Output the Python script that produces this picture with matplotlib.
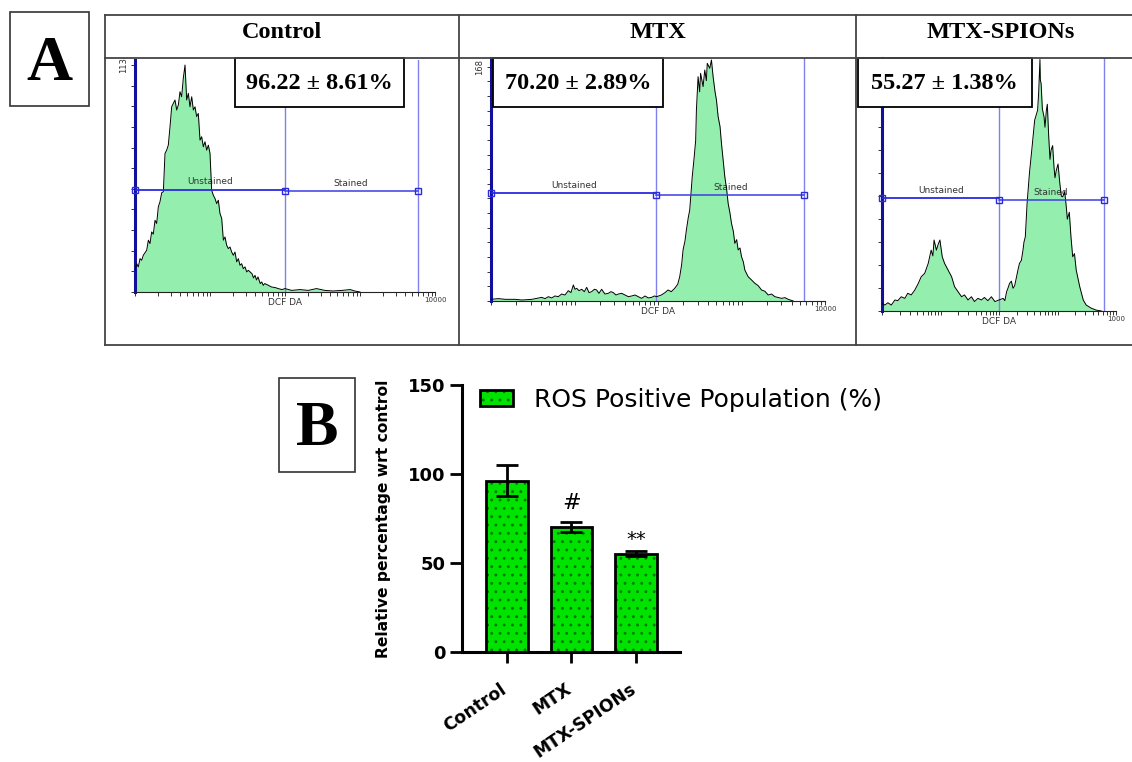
import matplotlib
matplotlib.use('Agg')
import matplotlib.pyplot as plt
import numpy as np
from matplotlib.patches import Rectangle
from matplotlib.ticker import NullFormatter

W, H = 1132, 762

groups = ['Control', 'MTX', 'MTX-SPIONs']
ros_mean = [96.22, 70.20, 55.27]
ros_sem = [8.61, 2.89, 1.38]
signif = ['', '#', '**']

# DCF DA histograms as (log decade, cell count); decade 0 -> 10^0, 4 -> 10^4
ctrl_pts = [(0.000, 10.8), (0.022, 14.1), (0.044, 12.5), (0.067, 16.6), (0.089, 15.8),
            (0.111, 18.3), (0.156, 20.8), (0.178, 25.8), (0.200, 24.1), (0.222, 29.9),
            (0.244, 28.8), (0.267, 35.7), (0.289, 34.1), (0.311, 42.4), (0.333, 44.9),
            (0.356, 49.4), (0.378, 49.9), (0.400, 69.0), (0.422, 70.6), (0.444, 73.1),
            (0.467, 82.3), (0.489, 92.2), (0.511, 93.9), (0.533, 95.6), (0.556, 90.6),
            (0.578, 93.1), (0.600, 99.7), (0.622, 97.2), (0.644, 106.4), (0.667, 113.0),
            (0.689, 95.6), (0.711, 98.9), (0.733, 92.2), (0.756, 97.2), (0.778, 90.6),
            (0.800, 92.2), (0.822, 87.3), (0.844, 88.9), (0.867, 75.6), (0.889, 77.3),
            (0.911, 72.3), (0.933, 74.8), (0.956, 70.6), (0.978, 73.1), (1.000, 69.0),
            (1.022, 50.7), (1.044, 48.2), (1.067, 46.5), (1.089, 44.0), (1.111, 45.7),
            (1.133, 39.1), (1.156, 36.6), (1.178, 25.8), (1.200, 27.4), (1.222, 23.3),
            (1.244, 21.6), (1.267, 22.4), (1.289, 19.9), (1.311, 18.3), (1.333, 19.9),
            (1.356, 15.0), (1.378, 16.6), (1.400, 13.3), (1.422, 14.1), (1.444, 11.6),
            (1.467, 12.5), (1.489, 10.0), (1.511, 10.8), (1.56, 9.1), (1.58, 7.0),
            (1.60, 8.3), (1.62, 6.0), (1.64, 7.5), (1.67, 4.2), (1.69, 5.0),
            (1.71, 3.3), (1.73, 4.2), (1.78, 3.3), (1.82, 2.5), (1.87, 2.2),
            (1.91, 1.7), (1.96, 1.2), (2.00, 1.7), (2.09, 0.8), (2.20, 1.2),
            (2.31, 0.8), (2.42, 1.7), (2.53, 0.8), (2.64, 0.5), (2.76, 0.8),
            (2.87, 1.2), (2.93, 0.5), (3.00, 0.0)]

mtx_pts = [(0.00, 1.2), (0.09, 1.7), (0.17, 1.2), (0.29, 1.2), (0.37, 0.7), (0.49, 1.2),
           (0.607, 2.6), (0.647, 1.7), (0.687, 3.1), (0.727, 2.2), (0.766, 3.6),
           (0.806, 3.1), (0.846, 5.0), (0.886, 4.3), (0.926, 7.4), (0.958, 6.0),
           (0.986, 11.5), (1.006, 8.4), (1.026, 9.1), (1.054, 7.4), (1.086, 8.4),
           (1.118, 6.7), (1.146, 9.8), (1.174, 6.0), (1.206, 6.7), (1.238, 8.4),
           (1.265, 7.9), (1.293, 5.5), (1.325, 8.4), (1.365, 5.0), (1.405, 5.5),
           (1.437, 6.7), (1.465, 6.0), (1.497, 4.3), (1.525, 5.0), (1.565, 5.5),
           (1.605, 4.3), (1.645, 3.1), (1.685, 3.6), (1.725, 4.3), (1.764, 3.1),
           (1.804, 1.9), (1.844, 3.6), (1.884, 2.2), (1.924, 2.6), (1.956, 3.6),
           (1.984, 3.1), (2.04, 4.3), (2.084, 6.0), (2.12, 7.9), (2.16, 6.7),
           (2.20, 9.1), (2.236, 12.0), (2.26, 17.4), (2.283, 26.0), (2.30, 36.6),
           (2.323, 43.0), (2.34, 50.9), (2.363, 60.0), (2.38, 65.2), (2.41, 89.1),
           (2.43, 101.1), (2.451, 115.0), (2.46, 136.9), (2.48, 160.8), (2.499, 150.0),
           (2.51, 163.2), (2.54, 153.7), (2.56, 165.6), (2.579, 158.0), (2.59, 170.4),
           (2.62, 166.8), (2.64, 172.8), (2.66, 160.8), (2.683, 150.0), (2.70, 144.1),
           (2.72, 132.2), (2.743, 125.0), (2.76, 113.0), (2.782, 100.0), (2.80, 89.1),
           (2.822, 80.0), (2.84, 70.0), (2.862, 63.0), (2.88, 55.7), (2.902, 50.0),
           (2.92, 41.3), (2.942, 44.0), (2.96, 36.6), (2.982, 38.0), (3.00, 31.8),
           (3.022, 28.0), (3.04, 22.2), (3.08, 17.4), (3.12, 15.1), (3.16, 12.7),
           (3.20, 11.0), (3.24, 7.9), (3.28, 7.0), (3.32, 4.3), (3.36, 5.0),
           (3.40, 3.1), (3.48, 1.9), (3.52, 2.4), (3.56, 1.2), (3.62, 0.0)]

spion_pts = [(0.00, 3.3), (0.05, 2.6), (0.10, 3.6), (0.16, 2.6), (0.22, 4.8), (0.27, 4.5),
             (0.33, 6.2), (0.39, 5.5), (0.44, 7.7), (0.50, 7.0), (0.56, 9.1), (0.62, 12.0),
             (0.67, 14.9), (0.73, 16.4), (0.79, 20.7), (0.84, 26.5), (0.87, 24.0),
             (0.89, 30.9), (0.93, 26.5), (0.96, 29.0), (0.99, 30.9), (1.03, 23.6),
             (1.07, 20.7), (1.13, 17.8), (1.19, 14.9), (1.24, 10.6), (1.30, 8.4),
             (1.36, 6.2), (1.41, 7.0), (1.47, 4.8), (1.53, 6.2), (1.58, 4.1),
             (1.64, 5.5), (1.70, 4.8), (1.75, 5.9), (1.81, 4.5), (1.87, 6.2),
             (1.93, 4.1), (2.00, 4.8), (2.07, 5.5), (2.10, 4.5), (2.13, 8.4),
             (2.154, 10.0), (2.18, 12.0), (2.211, 13.0), (2.24, 9.9), (2.268, 11.0),
             (2.30, 14.9), (2.325, 18.0), (2.35, 20.7), (2.382, 22.0), (2.41, 26.5),
             (2.427, 30.0), (2.45, 32.3), (2.48, 46.8), (2.52, 59.9), (2.56, 70.0),
             (2.61, 83.1), (2.66, 87.4), (2.678, 95.0), (2.70, 109.5), (2.707, 100.5),
             (2.72, 99.0), (2.741, 88.0), (2.77, 84.5), (2.786, 80.0), (2.81, 87.4),
             (2.826, 90.0), (2.85, 75.8), (2.872, 66.0), (2.89, 70.0), (2.917, 72.0),
             (2.94, 62.8), (2.957, 58.0), (2.98, 61.3), (3.009, 64.0), (3.04, 55.5),
             (3.066, 50.0), (3.09, 49.7), (3.123, 52.0), (3.15, 45.4), (3.168, 40.0),
             (3.18, 41.0), (3.202, 43.0), (3.23, 32.3), (3.26, 23.6), (3.29, 25.0),
             (3.32, 17.8), (3.38, 10.6), (3.44, 4.8), (3.49, 2.6), (3.58, 1.2),
             (3.66, 0.4), (3.75, 0.0)]

hist_pts = [ctrl_pts, mtx_pts, spion_pts]
y_full = [115.5, 174, 110]          # count at the top of each plot
y_label = ['113', '168', '']
y_ticks = [np.linspace(0, 113, 12), np.linspace(0, 168, 17), np.arange(0, 111, 10)]
x_end_label = ['10000', '10000', '1000']

# marker gates (decades) and their heights (counts)
gate_cut = [2.00, 1.98, 2.00]
gate_end = [3.77, 3.75, 3.79]
gate_left = [51.0, 77.4, 49.0]
gate_right = [50.2, 76.0, 48.3]
unst_pos = [1.00, 1.00, 1.01]
stain_pos = [2.88, 2.87, 2.88]

# pixel boxes (left, top, right, bottom)
hist_box = [(135, 60, 435, 292), (491, 58.3, 825, 301), (882, 58.3, 1116, 311)]
stat_box = [(235, 58.3, 404, 107.3), (493.3, 58.3, 663.3, 106.7), (857.7, 58.3, 1031.7, 107.3)]
head_x = [282, 657.5, 1001]

SERIF = 'Liberation Serif'
FILL = '#94eeae'

plt.rcParams['hatch.linewidth'] = 0.9
fig = plt.figure(figsize=(W / 100, H / 100), dpi=100)


def px_axes(x0, y0, x1, y1):
    return fig.add_axes([x0 / W, 1 - y1 / H, (x1 - x0) / W, (y1 - y0) / H])


# ---------------- panel A: flow histograms ----------------
for i in range(3):
    ax = px_axes(*hist_box[i])
    dec, cnt = zip(*hist_pts[i])
    fl = 10 ** np.array(dec)
    ax.fill_between(fl, cnt, color=FILL, lw=0, zorder=1)
    ax.plot(fl, cnt, color='black', lw=0.7, zorder=3)
    ax.set_xscale('log')
    ax.set_xlim(1, 1e4)
    ax.set_ylim(0, y_full[i])
    ax.set_facecolor('none')

    for s in ['top', 'right']:
        ax.spines[s].set_visible(False)
    ax.spines['left'].set_color('#10109a')
    ax.spines['left'].set_linewidth(2.2)
    ax.spines['bottom'].set_color('#222222')
    ax.spines['bottom'].set_linewidth(0.8)

    ax.set_yticks(y_ticks[i])
    ax.yaxis.set_major_formatter(NullFormatter())
    ax.xaxis.set_major_formatter(NullFormatter())
    ax.xaxis.set_minor_formatter(NullFormatter())
    ax.tick_params(axis='both', which='both', direction='out', length=3.2,
                   width=0.7, colors='#333333')

    # gates
    c, e = 10 ** gate_cut[i], 10 ** gate_end[i]
    ax.axvline(c, color='#8080ee', lw=1.0, zorder=2)
    ax.axvline(e, color='#8080ee', lw=1.0, zorder=2)
    ax.plot([1, c], [gate_left[i], gate_left[i]], color='#2a2ae0', lw=1.3, zorder=4)
    ax.plot([c, e], [gate_right[i], gate_right[i]], color='#3c3ce6', lw=1.1, zorder=4)
    ax.plot([1, c, e], [gate_left[i], gate_right[i], gate_right[i]], ls='none',
            marker='s', ms=4.2, mfc='none', mec='#2a2ae0', mew=1.0, zorder=5,
            clip_on=False)
    ax.annotate('Unstained', (10 ** unst_pos[i], gate_left[i]), xytext=(0, 2.5),
                textcoords='offset points', ha='center', va='bottom',
                fontsize=6.5, color='#333333', zorder=2.5)
    ax.annotate('Stained', (10 ** stain_pos[i], gate_right[i]), xytext=(0, 2.5),
                textcoords='offset points', ha='center', va='bottom',
                fontsize=6.5, color='#333333', zorder=2.5)

    ax.annotate('DCF DA', (0.5, 0), xycoords='axes fraction', xytext=(0, -4.5),
                textcoords='offset points', ha='center', va='top',
                fontsize=6.5, color='#333333')
    ax.annotate(x_end_label[i], (1, 0), xycoords='axes fraction', xytext=(0, -6),
                textcoords='offset points', ha='center', va='center',
                fontsize=5, color='#333333')
    if y_label[i]:
        ax.annotate(y_label[i], (0, float(y_label[i])),
                    xycoords=('axes fraction', 'data'), xytext=(-8.5, 0),
                    textcoords='offset points', ha='center', va='center',
                    rotation=90, fontsize=6, color='#333333')

# ---------------- panel B: bar chart ----------------
axB = px_axes(461.7, 385, 680, 652.3)
xpos = np.arange(len(groups))
fill_bars = axB.bar(xpos, ros_mean, width=0.64, color='#00e200',
                    edgecolor='#007a00', hatch='..', lw=0, zorder=2)
edge_bars = axB.bar(xpos, ros_mean, width=0.64, fill=False,
                    edgecolor='black', lw=2.0, zorder=3)
axB.errorbar(xpos, ros_mean, yerr=ros_sem, fmt='none', ecolor='black',
             elinewidth=2.0, capsize=7.7, capthick=2.0, zorder=4)
for i, s in enumerate(signif):
    if not s:
        continue
    axB.annotate(s, (xpos[i], ros_mean[i] + ros_sem[i]),
                 xytext=(0, 6.5 if s == '#' else 2), textcoords='offset points',
                 ha='center', va='bottom', fontsize=16 if s == '#' else 14)

axB.set_xlim(-0.70, 2.68)
axB.set_ylim(0, 150)
axB.set_yticks([0, 50, 100, 150])
axB.set_xticks(xpos)
axB.xaxis.set_major_formatter(NullFormatter())
for i, g in enumerate(groups):
    axB.annotate(g, (xpos[i], 0), xycoords=('data', 'axes fraction'),
                 xytext=(-5, -20), textcoords='offset points', rotation=34,
                 rotation_mode='anchor', ha='right', va='top',
                 fontweight='bold', fontsize=12.4)
for lab in axB.get_yticklabels():
    lab.set_fontweight('bold')
    lab.set_fontsize(13)
for s in ['top', 'right']:
    axB.spines[s].set_visible(False)
for s in ['left', 'bottom']:
    axB.spines[s].set_linewidth(2.2)
axB.tick_params(axis='y', length=8.4, width=2.0, pad=3.5)
axB.tick_params(axis='x', length=8, width=2.0)
axB.set_ylabel('Relative percentage wrt control', fontweight='bold', fontsize=11.2)
axB.yaxis.set_label_coords(-0.324, 0.5)

axB.legend([(fill_bars[0], edge_bars[0])], ['ROS Positive Population (%)'],
           loc='center left', bbox_to_anchor=(480 / W, 1 - 400 / H),
           bbox_transform=fig.transFigure, frameon=False, fontsize=18,
           handlelength=1.33, handleheight=0.57, handletextpad=0.84,
           borderpad=0, borderaxespad=0)

# ---------------- overlay: table, labels, value boxes ----------------
ax0 = fig.add_axes([0, 0, 1, 1])
ax0.set_xlim(0, W)
ax0.set_ylim(H, 0)
ax0.axis('off')
ax0.set_zorder(10)
ax0.patch.set_visible(False)

line_kw = dict(color='#444444', lw=1.3)
for yy in [15, 57.7, 345]:
    ax0.plot([105, W], [yy, yy], **line_kw)
for xx in [105, 459, 856]:
    ax0.plot([xx, xx], [15, 345], **line_kw)

for i in range(3):
    ax0.text(head_x[i], 38.5, groups[i], ha='center', va='baseline',
             family=SERIF, fontweight='bold', fontsize=17.5)
    x0, y0, x1, y1 = stat_box[i]
    ax0.add_patch(Rectangle((x0, y0), x1 - x0, y1 - y0, fc='white',
                            ec='black', lw=1.3))
    ax0.text((x0 + x1) / 2, 89, f'{ros_mean[i]:.2f} \u00b1 {ros_sem[i]:.2f}%',
             ha='center', va='baseline', family=SERIF, fontweight='bold',
             fontsize=17.5)

ax0.add_patch(Rectangle((10, 12), 79, 94, fc='white', ec='#333333', lw=1.2))
ax0.text(49.5, 79.5, 'A', ha='center', va='baseline', family=SERIF,
         fontweight='bold', fontsize=46)
ax0.add_patch(Rectangle((279, 378), 76, 94, fc='white', ec='#333333', lw=1.2))
ax0.text(317, 445, 'B', ha='center', va='baseline', family=SERIF,
         fontweight='bold', fontsize=46)

fig.savefig('out.png', dpi=100)
